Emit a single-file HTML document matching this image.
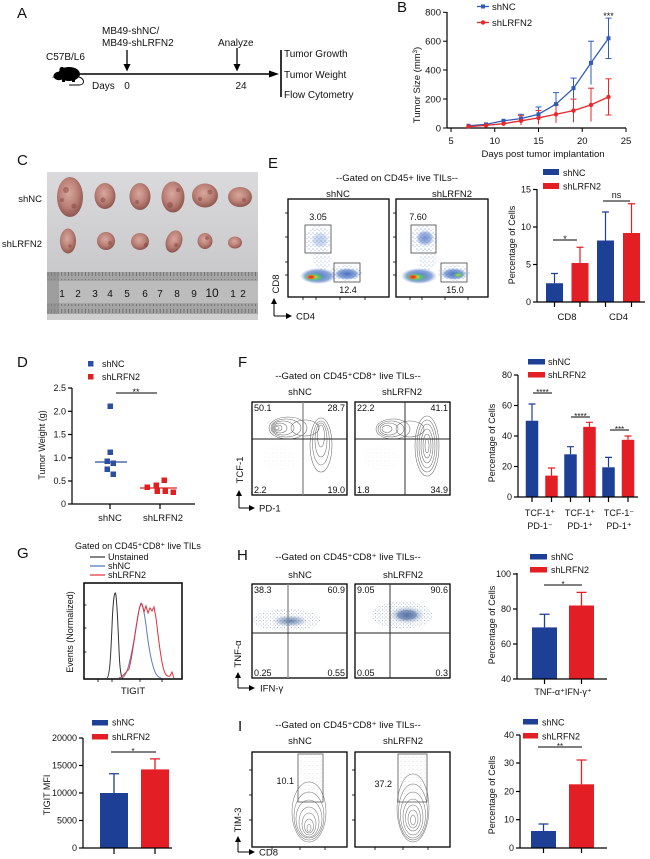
<!DOCTYPE html>
<html><head><meta charset="utf-8"><style>
html,body{margin:0;padding:0;background:#fff;}
svg{display:block;}
text{font-family:"Liberation Sans",Arial,"DejaVu Sans",sans-serif;fill:#111;}
</style></head><body>
<svg width="650" height="859" viewBox="0 0 650 859" xmlns="http://www.w3.org/2000/svg">
<defs>
<linearGradient id="pbg" x1="0" y1="0" x2="0" y2="1"><stop offset="0" stop-color="#dadadc"/><stop offset="0.65" stop-color="#cacacd"/><stop offset="1" stop-color="#bfbfc1"/></linearGradient>
<radialGradient id="tum" cx="0.45" cy="0.4" r="0.6"><stop offset="0" stop-color="#d8a89e"/><stop offset="0.6" stop-color="#b97f75"/><stop offset="1" stop-color="#8e5650"/></radialGradient>
<pattern id="rt" width="3.4" height="9" patternUnits="userSpaceOnUse"><rect width="0.8" height="6" fill="#666"/></pattern>
<pattern id="rb" width="3.4" height="9" patternUnits="userSpaceOnUse"><rect y="3" width="0.8" height="6" fill="#666"/></pattern>
<pattern id="bd" width="4" height="4" patternUnits="userSpaceOnUse"><circle cx="1" cy="1" r="0.55" fill="#5a80c8"/><circle cx="3" cy="2.7" r="0.5" fill="#7a9ad4"/></pattern>
<pattern id="hd" width="3.5" height="3.5" patternUnits="userSpaceOnUse"><circle cx="1" cy="1" r="0.5" fill="#6a86b0"/><circle cx="2.7" cy="2.5" r="0.45" fill="#9aaac4"/></pattern>
<pattern id="gd" width="4" height="4" patternUnits="userSpaceOnUse"><circle cx="1" cy="1.2" r="0.4" fill="#999"/><circle cx="3" cy="3" r="0.35" fill="#bbb"/></pattern>
<radialGradient id="blueblob"><stop offset="0" stop-color="#3f68c0" stop-opacity="0.95"/><stop offset="0.7" stop-color="#5a80c8" stop-opacity="0.7"/><stop offset="1" stop-color="#7a9ad4" stop-opacity="0"/></radialGradient>
<radialGradient id="greenblob"><stop offset="0" stop-color="#f0e030"/><stop offset="0.4" stop-color="#6cc860"/><stop offset="1" stop-color="#4cb890" stop-opacity="0"/></radialGradient>
<radialGradient id="redblob"><stop offset="0" stop-color="#e8201c"/><stop offset="0.6" stop-color="#f06020"/><stop offset="1" stop-color="#f0a020" stop-opacity="0"/></radialGradient>
<radialGradient id="hblob"><stop offset="0" stop-color="#3a5c98" stop-opacity="0.8"/><stop offset="0.6" stop-color="#6a86b0" stop-opacity="0.45"/><stop offset="1" stop-color="#9aaac4" stop-opacity="0"/></radialGradient>
</defs>

<!-- ============ A ============ -->
<text x="17" y="18" font-size="15">A</text>
<text x="102" y="34" font-size="10">MB49-shNC/</text>
<text x="102" y="46" font-size="10">MB49-shLRFN2</text>
<text x="218" y="46" font-size="10">Analyze</text>
<text x="46" y="60" font-size="10">C57B/L6</text>
<g fill="#000">
<ellipse cx="69" cy="74" rx="11" ry="7"/>
<ellipse cx="59" cy="76" rx="5.5" ry="4.2"/>
<path d="M52,78 L56,74 L60,75 Z"/>
<circle cx="62" cy="69.5" r="2.6"/>
<rect x="62" y="79" width="3" height="3"/><rect x="72" y="79" width="3" height="3"/>
</g>
<path d="M79,77 C85,79 85,85 79,85 L69,85" stroke="#000" fill="none" stroke-width="1"/>
<line x1="80" y1="74" x2="271" y2="74" stroke="#000" stroke-width="1.6"/>
<polygon points="269,70.5 279,74 269,77.5" fill="#000"/>
<line x1="127" y1="50" x2="127" y2="65" stroke="#000" stroke-width="1.3"/>
<polygon points="123.5,64 127,71.5 130.5,64" fill="#000"/>
<line x1="237" y1="48" x2="237" y2="65" stroke="#000" stroke-width="1.3"/>
<polygon points="233.5,64 237,71.5 240.5,64" fill="#000"/>
<text x="92" y="89" font-size="10">Days</text>
<text x="127" y="89" font-size="10" text-anchor="middle">0</text>
<text x="241" y="89" font-size="10" text-anchor="middle">24</text>
<line x1="281" y1="50" x2="281" y2="97" stroke="#000" stroke-width="1.6"/>
<text x="284" y="57" font-size="10">Tumor Growth</text>
<text x="284" y="78" font-size="10">Tumor Weight</text>
<text x="284" y="98" font-size="10">Flow Cytometry</text>

<!-- ============ B ============ -->
<text x="397" y="12" font-size="15">B</text>
<line x1="447" y1="12" x2="447" y2="128" stroke="#000" stroke-width="1.2"/>
<line x1="447" y1="128" x2="626" y2="128" stroke="#000" stroke-width="1.2"/>
<g stroke="#000" stroke-width="1">
<line x1="443" y1="12.3" x2="447" y2="12.3"/><line x1="443" y1="41.2" x2="447" y2="41.2"/><line x1="443" y1="70" x2="447" y2="70"/><line x1="443" y1="99" x2="447" y2="99"/><line x1="443" y1="128" x2="447" y2="128"/>
<line x1="451" y1="128" x2="451" y2="132"/><line x1="494.75" y1="128" x2="494.75" y2="132"/><line x1="538.5" y1="128" x2="538.5" y2="132"/><line x1="582.25" y1="128" x2="582.25" y2="132"/><line x1="626" y1="128" x2="626" y2="132"/>
</g>
<g font-size="9.5" text-anchor="end">
<text x="441" y="15.5">800</text><text x="441" y="44.5">600</text><text x="441" y="73.5">400</text><text x="441" y="102.5">200</text><text x="441" y="131.5">0</text>
</g>
<g font-size="9.5" text-anchor="middle">
<text x="451" y="144">5</text><text x="494.75" y="144">10</text><text x="538.5" y="144">15</text><text x="582.25" y="144">20</text><text x="626" y="144">25</text>
</g>
<text x="543" y="157" font-size="9.5" text-anchor="middle">Days post tumor implantation</text>
<text transform="translate(420,85) rotate(-90)" font-size="9.5" text-anchor="middle">Tumor Size (mm<tspan font-size="6" dy="-3">3</tspan><tspan dy="3">)</tspan></text>
<line x1="477" y1="6.5" x2="489" y2="6.5" stroke="#2f5cb8" stroke-width="1.3"/><rect x="481" y="4.5" width="4" height="4" fill="#2f5cb8"/>
<text x="492" y="10" font-size="9.5">shNC</text>
<line x1="477" y1="22.5" x2="489" y2="22.5" stroke="#e8262b" stroke-width="1.3"/><circle cx="483" cy="22.5" r="2.2" fill="#e8262b"/>
<text x="492" y="26" font-size="9.5">shLRFN2</text>
<g stroke="#2f5cb8" stroke-width="1">
<line x1="521" y1="122.2" x2="521" y2="114.3"/><line x1="518" y1="114.3" x2="524" y2="114.3"/>
<line x1="538.5" y1="121.5" x2="538.5" y2="107"/><line x1="535.5" y1="107" x2="541.5" y2="107"/>
<line x1="556" y1="115" x2="556" y2="92.6"/><line x1="553" y1="92.6" x2="559" y2="92.6"/>
<line x1="573.5" y1="98.4" x2="573.5" y2="78.1"/><line x1="570.5" y1="78.1" x2="576.5" y2="78.1"/>
<line x1="591" y1="84.6" x2="591" y2="41.2"/><line x1="588" y1="41.2" x2="594" y2="41.2"/>
<line x1="608.5" y1="58.6" x2="608.5" y2="18.1"/><line x1="605.5" y1="18.1" x2="611.5" y2="18.1"/><line x1="605.5" y1="58.6" x2="611.5" y2="58.6"/>
</g>
<g stroke="#e8262b" stroke-width="1">
<line x1="521" y1="125.1" x2="521" y2="115.7"/><line x1="518" y1="115.7" x2="524" y2="115.7"/>
<line x1="538.5" y1="124.4" x2="538.5" y2="110.6"/><line x1="535.5" y1="110.6" x2="541.5" y2="110.6"/>
<line x1="556" y1="122.9" x2="556" y2="104.9"/><line x1="553" y1="104.9" x2="559" y2="104.9"/>
<line x1="573.5" y1="122.2" x2="573.5" y2="99.1"/><line x1="570.5" y1="99.1" x2="576.5" y2="99.1"/>
<line x1="591" y1="121.5" x2="591" y2="88.2"/><line x1="588" y1="88.2" x2="594" y2="88.2"/>
<line x1="608.5" y1="115" x2="608.5" y2="78.8"/><line x1="605.5" y1="78.8" x2="611.5" y2="78.8"/><line x1="605.5" y1="115" x2="611.5" y2="115"/>
</g>
<polyline points="468.5,125.8 486,124.4 503.5,120.8 521,118.6 538.5,114.3 556,104.1 573.5,88.2 591,62.9 608.5,38.3" fill="none" stroke="#2f5cb8" stroke-width="1.3"/>
<polyline points="468.5,126.6 486,125.4 503.5,123.7 521,120.8 538.5,117.9 556,114.3 573.5,110.6 591,104.9 608.5,96.9" fill="none" stroke="#e8262b" stroke-width="1.3"/>
<g fill="#2f5cb8">
<rect x="466.5" y="123.8" width="4" height="4"/><rect x="484" y="122.4" width="4" height="4"/><rect x="501.5" y="118.8" width="4" height="4"/><rect x="519" y="116.6" width="4" height="4"/><rect x="536.5" y="112.3" width="4" height="4"/><rect x="554" y="102.1" width="4" height="4"/><rect x="571.5" y="86.2" width="4" height="4"/><rect x="589" y="60.9" width="4" height="4"/><rect x="606.5" y="36.3" width="4" height="4"/>
</g>
<g fill="#e8262b">
<circle cx="468.5" cy="126.6" r="2.2"/><circle cx="486" cy="125.4" r="2.2"/><circle cx="503.5" cy="123.7" r="2.2"/><circle cx="521" cy="120.8" r="2.2"/><circle cx="538.5" cy="117.9" r="2.2"/><circle cx="556" cy="114.3" r="2.2"/><circle cx="573.5" cy="110.6" r="2.2"/><circle cx="591" cy="104.9" r="2.2"/><circle cx="608.5" cy="96.9" r="2.2"/>
</g>
<text x="608.5" y="19" font-size="9" text-anchor="middle">***</text>

<!-- ============ C ============ -->
<text x="17" y="165" font-size="15">C</text>
<text x="42" y="202" font-size="9.5" text-anchor="end">shNC</text>
<text x="42" y="247" font-size="9.5" text-anchor="end">shLRFN2</text>
<rect x="47" y="172" width="211" height="148" fill="url(#pbg)"/>
<rect x="47" y="272" width="211" height="42" fill="#a4a4a4"/>
<rect x="47" y="281" width="211" height="22" fill="#bcbcbc"/>
<rect x="47" y="272" width="211" height="8" fill="url(#rt)"/>
<rect x="47" y="304" width="211" height="9" fill="url(#rb)"/>
<rect x="47" y="272" width="12" height="42" fill="#8a8a8a" opacity="0.6"/>
<rect x="47" y="314" width="211" height="6" fill="#cfcfd0"/>
<g font-size="10" text-anchor="middle">
<text x="62" y="297" fill="#444">1</text><text x="78" y="297" fill="#444">2</text><text x="95" y="297" fill="#444">3</text><text x="110" y="297" fill="#444">4</text><text x="127" y="297" fill="#444">5</text><text x="145" y="297" fill="#444">6</text><text x="160" y="297" fill="#444">7</text><text x="177" y="297" fill="#444">8</text><text x="194" y="297" fill="#444">9</text><text x="212" y="297" fill="#444" font-size="12">10</text><text x="233" y="297" fill="#444">1</text><text x="243" y="297" fill="#444">2</text>
</g>
<g fill="url(#tum)">
<ellipse cx="70" cy="197" rx="13" ry="20"/>
<ellipse cx="105" cy="196" rx="10.5" ry="13"/>
<ellipse cx="140" cy="196.5" rx="10.5" ry="13.5"/>
<ellipse cx="173" cy="197" rx="11.5" ry="15.5"/>
<ellipse cx="205" cy="195.5" rx="13" ry="12"/>
<ellipse cx="240" cy="197" rx="12" ry="10"/>
<ellipse cx="68" cy="241" rx="8" ry="12.5"/>
<ellipse cx="106" cy="241" rx="9" ry="9"/>
<ellipse cx="140" cy="241.5" rx="9" ry="8.5"/>
<ellipse cx="174" cy="241.5" rx="8" ry="11.5" transform="rotate(20 174 241.5)"/>
<ellipse cx="205" cy="241" rx="7.5" ry="8"/>
<ellipse cx="235" cy="242.5" rx="7" ry="6"/>
</g>
<g fill="#7e3e38" opacity="0.45">
<circle cx="66" cy="190" r="3"/><circle cx="74" cy="206" r="2.5"/><circle cx="62" cy="200" r="2"/><circle cx="103" cy="200" r="2.5"/><circle cx="137" cy="202" r="2"/><circle cx="170" cy="205" r="3"/><circle cx="178" cy="190" r="2"/><circle cx="210" cy="192" r="2.5"/><circle cx="200" cy="199" r="2"/><circle cx="244" cy="200" r="2"/><circle cx="110" cy="243" r="2"/><circle cx="146" cy="245" r="2"/><circle cx="207" cy="238" r="2"/><circle cx="70" cy="246" r="1.8"/><circle cx="176" cy="245" r="2"/>
</g>

<!-- ============ E ============ -->
<text x="268" y="168" font-size="15">E</text>
<text x="397" y="181" font-size="9.5" text-anchor="middle">--Gated on CD45+ live TILs--</text>
<text x="338" y="197" font-size="9.5" text-anchor="middle">shNC</text>
<text x="452" y="197" font-size="9.5" text-anchor="middle">shLRFN2</text>
<ellipse cx="318" cy="240" rx="13" ry="14" fill="url(#bd)"/>
<ellipse cx="320" cy="240" rx="9" ry="8" fill="url(#blueblob)" opacity="0.35"/>
<ellipse cx="322" cy="259" rx="9" ry="11" fill="url(#bd)" opacity="0.8"/>
<ellipse cx="346" cy="273" rx="16" ry="8" fill="url(#bd)"/>
<ellipse cx="347" cy="274" rx="13" ry="6" fill="url(#blueblob)"/>
<ellipse cx="318" cy="276" rx="18" ry="8" fill="url(#blueblob)"/>
<ellipse cx="314" cy="277" rx="11" ry="4.5" fill="url(#greenblob)"/>
<ellipse cx="311" cy="277" rx="5" ry="2.5" fill="url(#redblob)"/>
<rect x="288" y="199" width="101" height="98" fill="none" stroke="#000" stroke-width="1.3"/>
<rect x="305" y="225" width="26" height="28" fill="none" stroke="#444" stroke-width="0.8"/>
<rect x="334" y="263" width="26" height="19" fill="none" stroke="#444" stroke-width="0.8"/>
<text x="318" y="220" font-size="9" text-anchor="middle">3.05</text>
<text x="348" y="293" font-size="9" text-anchor="middle">12.4</text>
<ellipse cx="424" cy="239" rx="13" ry="14" fill="url(#bd)"/>
<ellipse cx="425" cy="238" rx="9" ry="8" fill="url(#blueblob)" opacity="0.75"/>
<ellipse cx="428" cy="259" rx="9" ry="11" fill="url(#bd)" opacity="0.8"/>
<ellipse cx="454" cy="273" rx="16" ry="8" fill="url(#bd)"/>
<ellipse cx="454" cy="274" rx="13" ry="6" fill="url(#blueblob)"/>
<ellipse cx="458" cy="275" rx="6" ry="3" fill="url(#greenblob)" opacity="0.8"/>
<ellipse cx="419" cy="276" rx="18" ry="8" fill="url(#blueblob)"/>
<ellipse cx="416" cy="277" rx="11" ry="4.5" fill="url(#greenblob)"/>
<ellipse cx="413" cy="277" rx="5" ry="2.5" fill="url(#redblob)"/>
<rect x="396" y="199" width="92" height="98" fill="none" stroke="#000" stroke-width="1.3"/>
<rect x="411" y="225" width="25" height="28" fill="none" stroke="#444" stroke-width="0.8"/>
<rect x="441" y="263" width="26" height="19" fill="none" stroke="#444" stroke-width="0.8"/>
<text x="418" y="220" font-size="9" text-anchor="middle">7.60</text>
<text x="455" y="293" font-size="9" text-anchor="middle">15.0</text>
<g stroke="#000" stroke-width="0.8">
<line x1="285" y1="213" x2="288" y2="213"/><line x1="285" y1="237" x2="288" y2="237"/><line x1="285" y1="262" x2="288" y2="262"/><line x1="285" y1="275" x2="288" y2="275"/>
<line x1="393" y1="213" x2="396" y2="213"/><line x1="393" y1="237" x2="396" y2="237"/><line x1="393" y1="262" x2="396" y2="262"/><line x1="393" y1="275" x2="396" y2="275"/>
<line x1="303" y1="297" x2="303" y2="300"/><line x1="316" y1="297" x2="316" y2="300"/><line x1="340" y1="297" x2="340" y2="300"/><line x1="365" y1="297" x2="365" y2="300"/>
<line x1="410" y1="297" x2="410" y2="300"/><line x1="422" y1="297" x2="422" y2="300"/><line x1="445" y1="297" x2="445" y2="300"/><line x1="468" y1="297" x2="468" y2="300"/>
</g>
<text transform="translate(279,284) rotate(-90)" font-size="9.5" text-anchor="middle">CD8</text>
<line x1="274" y1="316" x2="274" y2="302" stroke="#000" stroke-width="1"/>
<polygon points="271,304 274,298 277,304" fill="#000"/>
<line x1="274" y1="316" x2="287" y2="316" stroke="#000" stroke-width="1"/>
<polygon points="286,313 292,316 286,319" fill="#000"/>
<text x="296" y="319.5" font-size="9.5">CD4</text>
<rect x="543" y="169" width="16" height="6" fill="#1d3f95"/><text x="563" y="176" font-size="9">shNC</text>
<rect x="543" y="183" width="16" height="6" fill="#e31e24"/><text x="563" y="189.5" font-size="9">shLRFN2</text>
<rect x="546" y="283.25" width="17" height="18.75" fill="#1d3f95"/>
<rect x="571.5" y="263" width="17" height="39" fill="#e31e24"/>
<rect x="597" y="240.5" width="17" height="61.5" fill="#1d3f95"/>
<rect x="623" y="233" width="17" height="69" fill="#e31e24"/>
<g stroke-width="1.2">
<path d="M554.5,283.25V273.5M551,273.5H558" stroke="#1d3f95"/>
<path d="M580,263V247.25M576.5,247.25H583.5" stroke="#e31e24"/>
<path d="M605.5,240.5V212M602,212H609" stroke="#1d3f95"/>
<path d="M631.5,233V203.75M628,203.75H635" stroke="#e31e24"/>
</g>
<g stroke="#000" stroke-width="1.2">
<line x1="537" y1="189" x2="537" y2="302"/><line x1="537" y1="302" x2="645" y2="302"/>
<line x1="533" y1="189.5" x2="537" y2="189.5"/><line x1="533" y1="227" x2="537" y2="227"/><line x1="533" y1="264.5" x2="537" y2="264.5"/><line x1="533" y1="302" x2="537" y2="302"/>
<line x1="554.5" y1="302" x2="554.5" y2="307"/><line x1="580" y1="302" x2="580" y2="307"/><line x1="605.5" y1="302" x2="605.5" y2="307"/><line x1="631.5" y1="302" x2="631.5" y2="307"/>
<line x1="553" y1="240" x2="577" y2="240" stroke-width="1"/><line x1="603" y1="201" x2="630" y2="201" stroke-width="1"/>
</g>
<g font-size="9" text-anchor="end"><text x="531" y="192.5">15</text><text x="531" y="230">10</text><text x="531" y="267.5">5</text><text x="531" y="305">0</text></g>
<text x="565" y="242" font-size="9" text-anchor="middle">*</text>
<text x="616.5" y="198" font-size="9" text-anchor="middle">ns</text>
<text x="567" y="320" font-size="9.5" text-anchor="middle">CD8</text>
<text x="618.5" y="320" font-size="9.5" text-anchor="middle">CD4</text>
<text transform="translate(515,245) rotate(-90)" font-size="9" text-anchor="middle">Percentage of Cells</text>

<!-- ============ D ============ -->
<text x="17" y="367" font-size="15">D</text>
<rect x="88" y="361" width="5.5" height="5.5" fill="#2c4fa0"/><text x="102" y="367" font-size="9">shNC</text>
<rect x="88" y="374" width="5.5" height="5.5" fill="#e02020"/><text x="102" y="380" font-size="9">shLRFN2</text>
<g stroke="#000" stroke-width="1.2">
<line x1="72" y1="388" x2="72" y2="504"/><line x1="72" y1="504" x2="195" y2="504"/>
<line x1="68" y1="388" x2="72" y2="388"/><line x1="68" y1="411.3" x2="72" y2="411.3"/><line x1="68" y1="434.5" x2="72" y2="434.5"/><line x1="68" y1="457.8" x2="72" y2="457.8"/><line x1="68" y1="481" x2="72" y2="481"/><line x1="68" y1="504" x2="72" y2="504"/>
<line x1="110" y1="504" x2="110" y2="509"/><line x1="160" y1="504" x2="160" y2="509"/>
<line x1="116" y1="393" x2="157" y2="393" stroke-width="1"/>
</g>
<g font-size="9" text-anchor="end"><text x="66" y="391">2.5</text><text x="66" y="414.3">2.0</text><text x="66" y="437.5">1.5</text><text x="66" y="460.8">1.0</text><text x="66" y="484">0.5</text><text x="66" y="507">0</text></g>
<text x="136" y="395" font-size="9" text-anchor="middle">**</text>
<text x="110" y="521" font-size="9.5" text-anchor="middle">shNC</text>
<text x="163" y="521" font-size="9.5" text-anchor="middle">shLRFN2</text>
<text transform="translate(45,445) rotate(-90)" font-size="9" text-anchor="middle">Tumor Weight (g)</text>
<g fill="#2c4fa0">
<rect x="107.5" y="403.5" width="5.5" height="5.5"/><rect x="107.5" y="449.5" width="5.5" height="5.5"/><rect x="104.5" y="458.5" width="5.5" height="5.5"/><rect x="110.5" y="460.5" width="5.5" height="5.5"/><rect x="104.5" y="466.5" width="5.5" height="5.5"/><rect x="110.5" y="471.5" width="5.5" height="5.5"/>
</g>
<line x1="95" y1="462" x2="127" y2="462" stroke="#2c4fa0" stroke-width="1.3"/>
<g fill="#e02020">
<rect x="144.5" y="484.5" width="5.5" height="5.5"/><rect x="153.5" y="482.5" width="5.5" height="5.5"/><rect x="161.5" y="477.5" width="5.5" height="5.5"/><rect x="162.5" y="488.5" width="5.5" height="5.5"/><rect x="154.5" y="488.5" width="5.5" height="5.5"/><rect x="170.5" y="489.5" width="5.5" height="5.5"/>
</g>
<line x1="140" y1="488" x2="177" y2="488" stroke="#e02020" stroke-width="1.3"/>

<!-- ============ F ============ -->
<text x="238" y="367" font-size="15">F</text>
<text x="348" y="379" font-size="9.5" text-anchor="middle">--Gated on CD45⁺CD8⁺ live TILs--</text>
<text x="300" y="395" font-size="9.5" text-anchor="middle">shNC</text>
<text x="402" y="395" font-size="9.5" text-anchor="middle">shLRFN2</text>
<ellipse cx="280" cy="458" rx="18" ry="12" fill="url(#gd)" opacity="0.3"/>
<ellipse cx="380" cy="458" rx="18" ry="12" fill="url(#gd)" opacity="0.3"/>
<g fill="none" stroke="#3a3a3a" stroke-width="0.55" opacity="0.75">
<ellipse cx="288" cy="428" rx="19" ry="11"/><ellipse cx="286" cy="428" rx="15" ry="9"/><ellipse cx="283" cy="428" rx="11" ry="7"/><ellipse cx="280" cy="428" rx="7" ry="5"/><ellipse cx="278" cy="428" rx="4" ry="3"/><ellipse cx="277" cy="428" rx="2" ry="1.5"/>
<ellipse cx="321" cy="445" rx="11" ry="27"/><ellipse cx="321" cy="443" rx="8.5" ry="22"/><ellipse cx="321" cy="440" rx="6" ry="17"/><ellipse cx="321" cy="436" rx="3.5" ry="11"/>
<ellipse cx="305" cy="428" rx="14" ry="8"/>
<ellipse cx="393" cy="429" rx="17" ry="10"/><ellipse cx="391" cy="429" rx="13" ry="8"/><ellipse cx="389" cy="429" rx="9" ry="6"/><ellipse cx="387" cy="429" rx="5" ry="3.5"/>
<ellipse cx="427" cy="446" rx="12" ry="30"/><ellipse cx="427" cy="446" rx="10" ry="26"/><ellipse cx="427" cy="446" rx="8" ry="22"/><ellipse cx="427" cy="446" rx="6" ry="17"/><ellipse cx="427" cy="446" rx="4" ry="12"/><ellipse cx="427" cy="446" rx="2" ry="7"/>
<ellipse cx="410" cy="429" rx="14" ry="8"/>
</g>
<rect x="252" y="402" width="95" height="93" fill="none" stroke="#000" stroke-width="1.3"/>
<rect x="355" y="402" width="95" height="93" fill="none" stroke="#000" stroke-width="1.3"/>
<line x1="303" y1="402" x2="303" y2="495" stroke="#888" stroke-width="1.3"/>
<line x1="252" y1="439" x2="347" y2="439" stroke="#222" stroke-width="0.9"/>
<line x1="405" y1="402" x2="405" y2="495" stroke="#333" stroke-width="1"/>
<line x1="355" y1="439" x2="450" y2="439" stroke="#222" stroke-width="0.9"/>
<g font-size="9">
<text x="254" y="411">50.1</text><text x="345" y="411" text-anchor="end">28.7</text><text x="254" y="493">2.2</text><text x="345" y="493" text-anchor="end">19.0</text>
<text x="357" y="411">22.2</text><text x="448" y="411" text-anchor="end">41.1</text><text x="357" y="493">1.8</text><text x="448" y="493" text-anchor="end">34.9</text>
</g>
<text transform="translate(243,470) rotate(-90)" font-size="9.5" text-anchor="middle">TCF-1</text>
<line x1="239" y1="508" x2="239" y2="494" stroke="#000" stroke-width="1"/>
<polygon points="236,496 239,490 242,496" fill="#000"/>
<line x1="239" y1="508" x2="250" y2="508" stroke="#000" stroke-width="1"/>
<polygon points="249,505 255,508 249,511" fill="#000"/>
<text x="259" y="511.5" font-size="9.5">PD-1</text>
<rect x="528" y="359" width="17" height="5.5" fill="#1d3f95"/><text x="548" y="365" font-size="9">shNC</text>
<rect x="528" y="372" width="17" height="5.5" fill="#e31e24"/><text x="548" y="378" font-size="9">shLRFN2</text>
<rect x="525.75" y="420.75" width="12.5" height="76.25" fill="#1d3f95"/>
<rect x="545.25" y="475.6" width="12.5" height="21.4" fill="#e31e24"/>
<rect x="564.25" y="454.3" width="12.5" height="42.7" fill="#1d3f95"/>
<rect x="583.25" y="426.85" width="12.5" height="70.15" fill="#e31e24"/>
<rect x="602.25" y="467.3" width="12.5" height="29.7" fill="#1d3f95"/>
<rect x="621.75" y="439.8" width="12.5" height="57.2" fill="#e31e24"/>
<g stroke-width="1.2">
<path d="M532,420.75V404M528.5,404H535.5" stroke="#1d3f95"/>
<path d="M551.5,475.6V468M548,468H555" stroke="#e31e24"/>
<path d="M570.5,454.3V446.7M567,446.7H574" stroke="#1d3f95"/>
<path d="M589.5,426.85V422.3M586,422.3H593" stroke="#e31e24"/>
<path d="M608.5,467.3V457.4M605,457.4H612" stroke="#1d3f95"/>
<path d="M628,439.8V436M624.5,436H631.5" stroke="#e31e24"/>
</g>
<g stroke="#000" stroke-width="1.2">
<line x1="518" y1="375" x2="518" y2="497"/><line x1="518" y1="497" x2="638" y2="497"/>
<line x1="514" y1="375" x2="518" y2="375"/><line x1="514" y1="405.5" x2="518" y2="405.5"/><line x1="514" y1="436" x2="518" y2="436"/><line x1="514" y1="466.5" x2="518" y2="466.5"/><line x1="514" y1="497" x2="518" y2="497"/>
<line x1="532" y1="497" x2="532" y2="502"/><line x1="551.5" y1="497" x2="551.5" y2="502"/><line x1="570.5" y1="497" x2="570.5" y2="502"/><line x1="589.5" y1="497" x2="589.5" y2="502"/><line x1="608.5" y1="497" x2="608.5" y2="502"/><line x1="628" y1="497" x2="628" y2="502"/>
<line x1="533" y1="393" x2="552" y2="393" stroke-width="1"/><line x1="571" y1="417" x2="590" y2="417" stroke-width="1"/><line x1="610" y1="430" x2="629" y2="430" stroke-width="1"/>
</g>
<g font-size="9" text-anchor="end"><text x="512" y="378">80</text><text x="512" y="408.5">60</text><text x="512" y="439">40</text><text x="512" y="469.5">20</text><text x="512" y="500">0</text></g>
<g font-size="8" text-anchor="middle"><text x="542.5" y="395">****</text><text x="580.5" y="419">****</text><text x="619.5" y="432">***</text></g>
<g font-size="9" text-anchor="middle">
<text x="540" y="516">TCF-1⁺</text><text x="540" y="529">PD-1⁻</text>
<text x="580" y="516">TCF-1⁺</text><text x="580" y="529">PD-1⁺</text>
<text x="619" y="516">TCF-1⁻</text><text x="619" y="529">PD-1⁺</text>
</g>
<text transform="translate(495,443) rotate(-90)" font-size="9" text-anchor="middle">Percentage of Cells</text>

<!-- ============ G ============ -->
<text x="17" y="558" font-size="15">G</text>
<text x="138" y="549" font-size="9" text-anchor="middle">Gated on CD45⁺CD8⁺ live TILs</text>
<line x1="90" y1="557" x2="105" y2="557" stroke="#333" stroke-width="1.2"/><text x="108" y="560" font-size="9">Unstained</text>
<line x1="90" y1="566" x2="105" y2="566" stroke="#4a70b8" stroke-width="1.2"/><text x="108" y="569" font-size="9">shNC</text>
<line x1="90" y1="575" x2="105" y2="575" stroke="#e0303a" stroke-width="1.2"/><text x="108" y="578" font-size="9">shLRFN2</text>
<path d="M107,678 C110,677 111,650 112.5,615 C113.5,598 114.5,592 115.5,593 C117,596 118,630 119.5,660 C120.5,674 121.5,678 123,678" fill="none" stroke="#333" stroke-width="1"/>
<path d="M122,678 C127,676 130,662 134,640 C137,622 139,606 141,603 C143,604 144,612 146,625 C148,642 150,656 153,666 C155,673 157,677 161,678" fill="none" stroke="#5a7ec0" stroke-width="1"/>
<path d="M119,678 C123,677 125,673 129,669 C132,658 134,640 137,622 C139,609 140,604 142,604 L144,612 L146,606 L148,613 L150,608 L152,611 L154,607 L156,618 C158,634 160,654 163,667 C165,675 167,677 170,676 L172,672 L174,678" fill="none" stroke="#e0303a" stroke-width="1"/>
<rect x="84" y="583" width="98" height="96" fill="none" stroke="#000" stroke-width="1.5"/>
<g stroke="#000" stroke-width="0.8">
<line x1="84" y1="605" x2="86.5" y2="605"/><line x1="84" y1="628" x2="86.5" y2="628"/><line x1="84" y1="652" x2="86.5" y2="652"/>
<line x1="98" y1="679" x2="98" y2="682"/><line x1="112" y1="679" x2="112" y2="682"/><line x1="140" y1="679" x2="140" y2="682"/><line x1="162" y1="679" x2="162" y2="682"/>
</g>
<text x="133" y="694" font-size="9.5" text-anchor="middle">TIGIT</text>
<text transform="translate(73,632) rotate(-90)" font-size="9" text-anchor="middle">Events (Normalized)</text>
<rect x="92" y="720" width="16" height="5.5" fill="#1d3f95"/><text x="112" y="725.5" font-size="9">shNC</text>
<rect x="92" y="734" width="16" height="5.5" fill="#e31e24"/><text x="112" y="740" font-size="9">shLRFN2</text>
<rect x="100" y="793" width="28" height="55" fill="#1d3f95"/>
<rect x="141" y="769.4" width="28" height="78.6" fill="#e31e24"/>
<path d="M114,793V773.75M109,773.75H119" stroke="#1d3f95" stroke-width="1.3"/>
<path d="M155,769.4V758.9M150,758.9H160" stroke="#e31e24" stroke-width="1.3"/>
<g stroke="#000" stroke-width="1.2">
<line x1="83" y1="738" x2="83" y2="848"/><line x1="83" y1="848" x2="172" y2="848"/>
<line x1="79" y1="738" x2="83" y2="738"/><line x1="79" y1="765.5" x2="83" y2="765.5"/><line x1="79" y1="793" x2="83" y2="793"/><line x1="79" y1="820.5" x2="83" y2="820.5"/><line x1="79" y1="848" x2="83" y2="848"/>
<line x1="114" y1="848" x2="114" y2="854"/><line x1="155" y1="848" x2="155" y2="854"/>
<line x1="111" y1="752" x2="156" y2="752" stroke-width="1"/>
</g>
<g font-size="9" text-anchor="end"><text x="77" y="741">20000</text><text x="77" y="768.5">15000</text><text x="77" y="796">10000</text><text x="77" y="823.5">5000</text><text x="77" y="851">0</text></g>
<text x="133" y="754" font-size="8" text-anchor="middle">*</text>
<text transform="translate(50,795) rotate(-90)" font-size="9" text-anchor="middle">TIGIT MFI</text>

<!-- ============ H ============ -->
<text x="237" y="560" font-size="15">H</text>
<text x="348" y="560" font-size="9.5" text-anchor="middle">--Gated on CD45⁺CD8⁺ live TILs--</text>
<text x="300" y="578" font-size="9.5" text-anchor="middle">shNC</text>
<text x="403" y="578" font-size="9.5" text-anchor="middle">shLRFN2</text>
<ellipse cx="287" cy="620" rx="34" ry="11" fill="url(#hd)" opacity="0.8"/>
<ellipse cx="290" cy="621" rx="18" ry="6" fill="url(#hblob)"/>
<ellipse cx="402" cy="615" rx="30" ry="14" fill="url(#hd)" opacity="0.85"/>
<ellipse cx="407" cy="615" rx="18" ry="9" fill="url(#hblob)"/>
<ellipse cx="407" cy="615" rx="10" ry="5" fill="#3a5c98" opacity="0.35"/>
<rect x="252" y="584" width="95" height="94" fill="none" stroke="#000" stroke-width="1.3"/>
<rect x="355" y="584" width="95" height="94" fill="none" stroke="#000" stroke-width="1.3"/>
<line x1="288" y1="584" x2="288" y2="678" stroke="#888" stroke-width="1.3"/>
<line x1="252" y1="633" x2="347" y2="633" stroke="#222" stroke-width="0.9"/>
<line x1="390" y1="584" x2="390" y2="678" stroke="#333" stroke-width="1"/>
<line x1="355" y1="633" x2="450" y2="633" stroke="#222" stroke-width="0.9"/>
<g font-size="9">
<text x="254" y="593">38.3</text><text x="345" y="593" text-anchor="end">60.9</text><text x="254" y="676">0.25</text><text x="345" y="676" text-anchor="end">0.55</text>
<text x="357" y="593">9.05</text><text x="448" y="593" text-anchor="end">90.6</text><text x="357" y="676">0.05</text><text x="448" y="676" text-anchor="end">0.3</text>
</g>
<text transform="translate(241,654) rotate(-90)" font-size="9.5" text-anchor="middle">TNF-α</text>
<line x1="238" y1="688" x2="238" y2="676" stroke="#000" stroke-width="1"/>
<polygon points="235,678 238,672 241,678" fill="#000"/>
<line x1="238" y1="688" x2="250" y2="688" stroke="#000" stroke-width="1"/>
<polygon points="249,685 255,688 249,691" fill="#000"/>
<text x="260" y="691.5" font-size="9.5">IFN-γ</text>
<rect x="530" y="554" width="17" height="5.5" fill="#1d3f95"/><text x="551" y="560" font-size="9">shNC</text>
<rect x="530" y="567" width="17" height="5.5" fill="#e31e24"/><text x="551" y="573" font-size="9">shLRFN2</text>
<rect x="532" y="627.4" width="25" height="51.6" fill="#1d3f95"/>
<rect x="569" y="605.5" width="25" height="73.5" fill="#e31e24"/>
<path d="M544.5,627.4V614.25M539.5,614.25H549.5" stroke="#1d3f95" stroke-width="1.3"/>
<path d="M581.5,605.5V592.4M576.5,592.4H586.5" stroke="#e31e24" stroke-width="1.3"/>
<g stroke="#000" stroke-width="1.2">
<line x1="517" y1="573" x2="517" y2="679"/><line x1="517" y1="679" x2="607" y2="679"/>
<line x1="513" y1="574" x2="517" y2="574"/><line x1="513" y1="609" x2="517" y2="609"/><line x1="513" y1="644" x2="517" y2="644"/><line x1="513" y1="679" x2="517" y2="679"/>
<line x1="544.5" y1="679" x2="544.5" y2="684"/><line x1="581.5" y1="679" x2="581.5" y2="684"/>
<line x1="544" y1="585" x2="582" y2="585" stroke-width="1"/>
</g>
<g font-size="9" text-anchor="end"><text x="511" y="577">100</text><text x="511" y="612">80</text><text x="511" y="647">60</text><text x="511" y="682">40</text></g>
<text x="563" y="587" font-size="8" text-anchor="middle">*</text>
<text x="563" y="695" font-size="9" text-anchor="middle">TNF-α⁺IFN-γ⁺</text>
<text transform="translate(495,625) rotate(-90)" font-size="9" text-anchor="middle">Percentage of Cells</text>

<!-- ============ I ============ -->
<text x="238" y="731" font-size="15">I</text>
<text x="348" y="728" font-size="9.5" text-anchor="middle">--Gated on CD45⁺CD8⁺ live TILs--</text>
<text x="300" y="744" font-size="9.5" text-anchor="middle">shNC</text>
<text x="403" y="744" font-size="9.5" text-anchor="middle">shLRFN2</text>
<rect x="299" y="756" width="23" height="40" fill="url(#gd)" opacity="0.6"/>
<rect x="399" y="756" width="27" height="40" fill="url(#gd)" opacity="0.7"/>
<g fill="none" stroke="#555" stroke-width="0.55" opacity="0.8">
<ellipse cx="309" cy="812" rx="17" ry="30"/><ellipse cx="309" cy="816" rx="15" ry="24"/><ellipse cx="309" cy="819" rx="13" ry="19"/><ellipse cx="309" cy="822" rx="10" ry="15"/><ellipse cx="309" cy="824" rx="7" ry="11"/><ellipse cx="309" cy="826" rx="4.5" ry="7"/><ellipse cx="309" cy="828" rx="2" ry="3.5"/>
<ellipse cx="413" cy="808" rx="16" ry="34"/><ellipse cx="413" cy="812" rx="14.5" ry="28"/><ellipse cx="413" cy="815" rx="12.5" ry="23"/><ellipse cx="413" cy="817" rx="10" ry="18"/><ellipse cx="413" cy="818" rx="7.5" ry="13"/><ellipse cx="413" cy="819" rx="5" ry="9"/><ellipse cx="413" cy="820" rx="2.5" ry="5"/>
</g>
<rect x="252" y="752" width="95" height="95" fill="none" stroke="#000" stroke-width="1.3"/>
<rect x="355" y="752" width="95" height="95" fill="none" stroke="#000" stroke-width="1.3"/>
<rect x="298" y="754" width="25" height="48" fill="none" stroke="#555" stroke-width="0.8"/>
<rect x="398" y="754" width="29" height="48" fill="none" stroke="#555" stroke-width="0.8"/>
<text x="294" y="784" font-size="9" text-anchor="end">10.1</text>
<text x="392" y="787" font-size="9" text-anchor="end">37.2</text>
<g stroke="#000" stroke-width="0.8">
<line x1="249" y1="770" x2="252" y2="770"/><line x1="249" y1="795" x2="252" y2="795"/><line x1="249" y1="820" x2="252" y2="820"/>
<line x1="352" y1="770" x2="355" y2="770"/><line x1="352" y1="795" x2="355" y2="795"/><line x1="352" y1="820" x2="355" y2="820"/>
<line x1="272" y1="847" x2="272" y2="850"/><line x1="300" y1="847" x2="300" y2="850"/><line x1="325" y1="847" x2="325" y2="850"/>
<line x1="375" y1="847" x2="375" y2="850"/><line x1="403" y1="847" x2="403" y2="850"/><line x1="428" y1="847" x2="428" y2="850"/>
</g>
<text transform="translate(241,820) rotate(-90)" font-size="9.5" text-anchor="middle">TIM-3</text>
<line x1="238" y1="852" x2="238" y2="840" stroke="#000" stroke-width="1"/>
<polygon points="235,842 238,836 241,842" fill="#000"/>
<line x1="238" y1="852" x2="250" y2="852" stroke="#000" stroke-width="1"/>
<polygon points="249,849 255,852 249,855" fill="#000"/>
<text x="259" y="855.5" font-size="9.5">CD8</text>
<rect x="523" y="719" width="15" height="5.5" fill="#1d3f95"/><text x="542" y="725.5" font-size="9">shNC</text>
<rect x="523" y="733" width="15" height="5.5" fill="#e31e24"/><text x="542" y="739.5" font-size="9">shLRFN2</text>
<rect x="531" y="831" width="25" height="17" fill="#1d3f95"/>
<rect x="569" y="784.3" width="25" height="63.7" fill="#e31e24"/>
<path d="M543.5,831V824M538.5,824H548.5" stroke="#1d3f95" stroke-width="1.3"/>
<path d="M581.5,784.3V760M576.5,760H586.5" stroke="#e31e24" stroke-width="1.3"/>
<g stroke="#000" stroke-width="1.2">
<line x1="520" y1="735" x2="520" y2="848"/><line x1="520" y1="848" x2="607" y2="848"/>
<line x1="516" y1="735" x2="520" y2="735"/><line x1="516" y1="763" x2="520" y2="763"/><line x1="516" y1="791.5" x2="520" y2="791.5"/><line x1="516" y1="819.7" x2="520" y2="819.7"/><line x1="516" y1="848" x2="520" y2="848"/>
<line x1="543.5" y1="848" x2="543.5" y2="853"/><line x1="581.5" y1="848" x2="581.5" y2="853"/>
<line x1="538" y1="747" x2="582" y2="747" stroke-width="1"/>
</g>
<g font-size="9" text-anchor="end"><text x="514" y="738">40</text><text x="514" y="766">30</text><text x="514" y="794.5">20</text><text x="514" y="822.7">10</text><text x="514" y="851">0</text></g>
<text x="560" y="749" font-size="8" text-anchor="middle">**</text>
<text transform="translate(495,795) rotate(-90)" font-size="9" text-anchor="middle">Percentage of Cells</text>
</svg>
</body></html>
